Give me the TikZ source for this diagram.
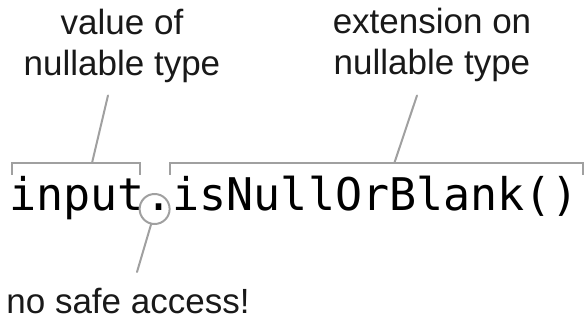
\documentclass[tikz,border=0pt]{standalone}
\usepackage{fontspec}
\setmainfont{Liberation Sans}
\newfontfamily\codefont{DejaVu Sans Mono}
\definecolor{LeaderGray}{RGB}{160,160,160}
\definecolor{LabelText}{RGB}{25,25,25}
\usepackage{tikz}
\usetikzlibrary{positioning,calc}
\tikzset{
  % code fragment
  code/.style={
    anchor=base west,
    inner sep=0pt,
    font=\codefont\fontsize{45}{54}\selectfont
  },
  % explanatory label
  note/.style={
    align=center,
    inner sep=0pt,
    text=LabelText,
    font=\fontsize{35}{41}\selectfont
  },
  % bracket over a code part
  bracket/.style={
    draw=LeaderGray,
    line width=2pt
  },
  % leader line from a label
  leader/.style={
    draw=LeaderGray,
    line width=2pt,
    line cap=round
  },
  % ring round the dot
  ring/.style={
    circle,
    draw=LeaderGray,
    line width=2pt,
    minimum size=30pt,
    inner sep=0pt
  }
}
\begin{document}
\begin{tikzpicture}[x=1pt,y=-1pt]
  \useasboundingbox (0,0) rectangle (584,320);

  % the call
  \node[code] (recv) at (9,211) {input};
  \node[code] (dot) at (recv.base east) {.};
  \node[code] (call) at (dot.base east) {isNullOrBlank()};

  % labels
  \node[note, anchor=base] (valuelbl) at (122,76) {value of\\nullable type};
  \node[note, anchor=base] (extlbl) at (432,75) {extension on\\nullable type};
  \node[note, anchor=base] (nosafe) at (128,314) {no safe access!};

  % brackets
  \draw[bracket] ([shift={(3,-36)}]recv.base west) |- ([shift={(-5,-48)}]recv.base east) -- ++(0,12);
  \draw[bracket] ([shift={(-2,-36)}]call.base west) |- ([shift={(4,-48)}]call.base east) -- ++(0,12);
  \coordinate (recvtop) at ([shift={(83,-48)}]recv.base west);
  \coordinate (calltop) at ([shift={(222,-48)}]call.base west);

  % ring round the dot
  \node[ring] (dotring) at ([shift={(-4,-2)}]dot.base) {};

  % leaders
  \draw[leader] ([shift={(-14,12)}]valuelbl.south) -- (recvtop);
  \draw[leader] ([shift={(-15,13)}]extlbl.south) -- (calltop);
  \draw[leader] (dotring.257) -- ([shift={(9,-42)}]nosafe.base);
\end{tikzpicture}
\end{document}
